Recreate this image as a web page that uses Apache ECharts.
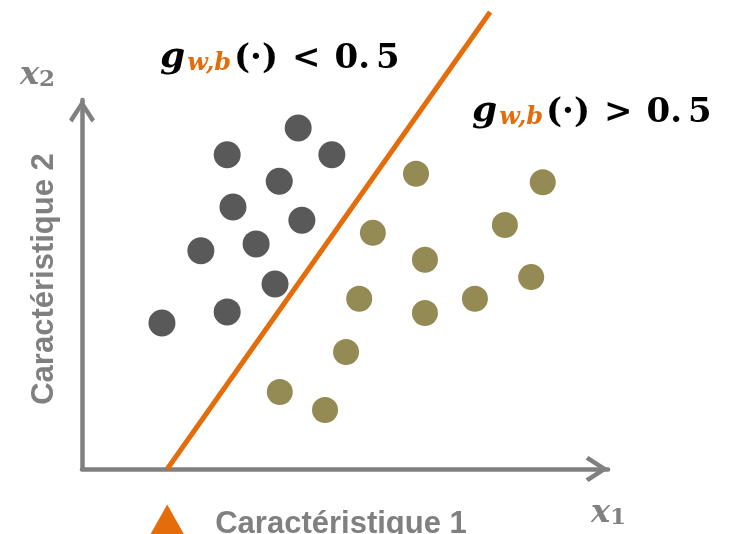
<!DOCTYPE html>
<html>
<head>
<meta charset="utf-8">
<script src="https://cdn.jsdelivr.net/npm/echarts@6/dist/echarts.min.js"></script>
<style>
  html, body { margin: 0; padding: 0; background: #fff; }
  #main { width: 731px; height: 534px; }
</style>
</head>
<body>
<div id="main"></div>
<script>
// points du groupe gauche (gris foncé) et droit (olive)
const darkX = [4.11, 2.76, 4.75, 3.75, 2.87, 4.18, 2.26, 3.31, 3.67, 2.76, 1.52];
const darkY = [6.47, 5.96, 5.96, 5.46, 4.97, 4.72, 4.14, 4.27, 3.51, 2.98, 2.77];
const oliveX = [6.35, 8.76, 8.04, 5.53, 6.52, 8.54, 5.27, 6.52, 7.47, 5.02, 3.76, 4.62];
const oliveY = [5.60, 5.44, 4.63, 4.48, 3.97, 3.64, 3.23, 2.96, 3.23, 2.22, 1.46, 1.12];
// frontière de décision
const boundaryX = [1.62, 7.76];
const boundaryY = [0, 8.67];
// flèche sous l'axe, au point d'intersection
const pointerX = [1.62];
const pointerY = [-0.96];
// textes
const xLabel = 'Caractéristique 1';
const yLabel = 'Caractéristique 2';
const leftText = ['g', 'w,b', '(·)', '<', '0.', '5'];
const rightText = ['g', 'w,b', '(·)', '>', '0.', '5'];

const zip = (xs, ys) => xs.map((x, i) => [x, ys[i]]);

const GRAY = '#808080';
const ORANGE = '#E46C0A';
// chevron ouvert (pointe en haut)
const chevron = 'path://M13,0 L26,20 L22.5,23 L13,8 L3.5,23 L0,20 Z';

const serif = 'DejaVu Serif';
const mathRich = {
  g: { fontFamily: serif, fontWeight: 'bold', fontStyle: 'italic', fontSize: 36, fill: '#000', lineHeight: 40, verticalAlign: 'bottom' },
  s: { fontFamily: serif, fontWeight: 'bold', fontStyle: 'italic', fontSize: 24, fill: ORANGE, lineHeight: 6, verticalAlign: 'bottom', padding: [0, 3, 0, 2] },
  m: { fontFamily: serif, fontWeight: 'bold', fontSize: 34, fill: '#000', lineHeight: 40, verticalAlign: 'bottom' },
  op: { fontFamily: serif, fontWeight: 'bold', fontSize: 34, fill: '#000', lineHeight: 40, verticalAlign: 'bottom', padding: [0, 14, 0, 14] },
  d: { fontFamily: serif, fontWeight: 'bold', fontSize: 34, fill: '#000', lineHeight: 40, verticalAlign: 'bottom', padding: [0, 0, 0, 6] }
};
const varRich = {
  v: { fontFamily: serif, fontWeight: 'bold', fontStyle: 'italic', fontSize: 32, fill: GRAY, lineHeight: 36, verticalAlign: 'bottom' },
  i: { fontFamily: serif, fontWeight: 'bold', fontSize: 23, fill: GRAY, lineHeight: 12, verticalAlign: 'bottom' }
};
const mathText = p => '{g|' + p[0] + '}{s|' + p[1] + '}{m|' + p[2] + '}{op|' + p[3] + '}{m|' + p[4] + '}{d|' + p[5] + '}';

const chart = echarts.init(document.getElementById('main'));
chart.setOption({
  animation: false,
  backgroundColor: '#fff',
  grid: { left: 82, right: 123, top: 100, bottom: 65 },
  xAxis: {
    type: 'value', min: 0, max: 10,
    axisLine: {
      show: true, onZero: false,
      lineStyle: { color: GRAY, width: 4.5 },
      symbol: ['none', chevron], symbolSize: [26, 23], symbolOffset: [0, -11]
    },
    axisTick: { show: false }, axisLabel: { show: false }, splitLine: { show: false }
  },
  yAxis: {
    type: 'value', min: 0, max: 7,
    axisLine: {
      show: true, onZero: false,
      lineStyle: { color: GRAY, width: 4.5 },
      symbol: ['none', chevron], symbolSize: [26, 23], symbolOffset: [0, -11]
    },
    axisTick: { show: false }, axisLabel: { show: false }, splitLine: { show: false }
  },
  series: [
    {
      type: 'scatter', data: zip(darkX, darkY), symbolSize: 27,
      itemStyle: { color: '#595959', opacity: 1 }, z: 2
    },
    {
      type: 'scatter', data: zip(oliveX, oliveY), symbolSize: 26,
      itemStyle: { color: '#948A54', opacity: 1 }, z: 2
    },
    {
      type: 'line', data: zip(boundaryX, boundaryY), clip: false,
      symbol: 'none', z: 3,
      lineStyle: { color: ORANGE, width: 5 }
    },
    {
      type: 'scatter', data: zip(pointerX, pointerY), clip: false,
      symbol: 'triangle', symbolSize: [34, 30], silent: true,
      itemStyle: { color: ORANGE, opacity: 1 }, z: 3
    }
  ],
  graphic: [
    { type: 'text', x: 160, y: 36, style: { text: mathText(leftText), rich: mathRich } },
    { type: 'text', x: 472, y: 90, style: { text: mathText(rightText), rich: mathRich } },
    { type: 'text', x: 20, y: 56, style: { text: '{v|x}{i|2}', rich: varRich } },
    { type: 'text', x: 591, y: 494, style: { text: '{v|x}{i|1}', rich: varRich } },
    {
      type: 'text', x: 341, y: 524,
      style: { text: xLabel, font: 'bold 31px "Liberation Sans", Arial, sans-serif', fill: GRAY, align: 'center', verticalAlign: 'middle' }
    },
    {
      type: 'text', x: 44, y: 279, rotation: Math.PI / 2,
      style: { text: yLabel, font: 'bold 31px "Liberation Sans", Arial, sans-serif', fill: GRAY, align: 'center', verticalAlign: 'middle' }
    }
  ]
});
</script>
</body>
</html>
